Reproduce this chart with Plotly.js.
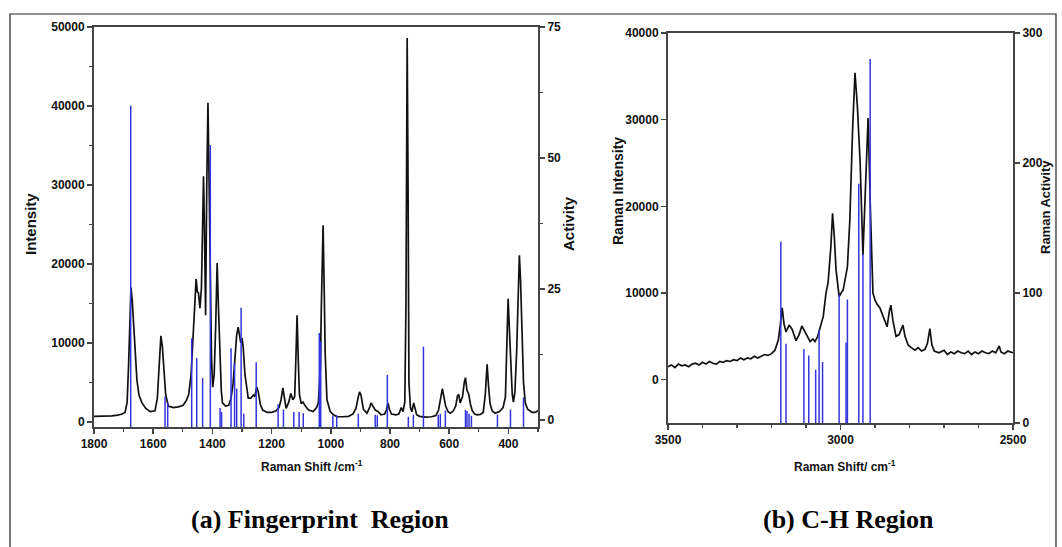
<!DOCTYPE html>
<html>
<head>
<meta charset="utf-8">
<script src="https://cdn.plot.ly/plotly-3.0.1.min.js"></script>
<style>html,body{margin:0;padding:0;background:#fff;}#chart{width:1062px;height:547px;}</style>
</head>
<body>
<div id="chart"></div>
<script>
// ---------- (a) Fingerprint region: Raman spectrum (intensity) ----------
const fpShift = [1800,1780,1760,1740,1720,1705,1695,1688,1683,1679,1675,1671,1667,1662,1655,1648,1638,1625,1610,1594,1586,1580,1574,1569,1563,1558,1549,1532,1515,1499,1488,1480,1472,1465,1459,1455,1451,1447,1442,1437,1433,1430,1427,1423,1419,1415,1411,1407,1403,1399,1394,1389,1384,1380,1375,1370,1366,1355,1345,1337,1330,1324,1318,1313,1308,1304,1300,1296,1290,1284,1279,1270,1262,1257,1250,1245,1238,1230,1215,1200,1185,1175,1168,1162,1157,1151,1142,1135,1128,1122,1118,1114,1110,1106,1100,1094,1086,1075,1060,1048,1042,1035,1032,1026,1022,1019,1013,1002,991,979,960,940,925,915,908,903,898,890,878,870,864,858,850,840,830,818,812,807,802,795,780,770,762,756,750,746,742,739,736,731,726,720,716,710,700,680,660,645,636,629,623,618,612,604,596,586,578,572,568,563,555,549,545,540,534,528,522,514,506,495,485,478,472,467,462,455,445,430,418,410,405,401,397,392,387,383,378,372,367,363,359,354,349,343,335,320,310,300];
const fpIntensity = [700,720,700,750,850,1000,1200,2500,7400,14000,17000,15500,13000,9000,5300,3400,2400,1700,1300,1400,3000,7000,10900,9500,6000,3500,2000,1800,1900,2100,2700,3500,6000,11000,16000,18100,16500,16300,14400,17000,25000,31100,25000,13500,30000,40400,30000,16000,8000,4400,6000,12000,20100,15000,8000,4000,2400,2000,2100,3000,4900,8000,11000,12000,10800,10000,10600,9500,6000,4000,3000,3000,3400,3200,4400,3800,2200,1500,1200,1200,1400,1800,2800,4300,3000,1700,2500,3600,2800,3200,8000,13500,8000,3500,2300,2500,2000,1500,1300,1800,2400,7000,14500,24900,16000,8700,2800,1300,900,650,650,700,1000,1700,3000,3800,3400,1600,1100,1700,2400,2000,1500,1300,900,1000,1500,2400,1600,1000,900,1000,1800,1300,2500,15000,48600,30000,5000,1800,1300,2400,1800,900,700,600,650,800,1500,3000,4200,3200,2000,1300,1100,1400,2000,3300,3500,2400,3200,5000,5600,4000,3500,2200,1400,1000,900,950,1200,3500,7300,4500,2300,1400,1100,1300,1800,3200,9000,15600,12000,7500,3500,2500,3800,9000,16000,21100,18000,11000,5000,2400,1600,1200,1200,1400];

// ---------- (a) calculated Raman activity (sticks) ----------
const fpBarShift = [1676,1560,1551,1470,1453,1433,1407,1374,1369,1337,1325,1318,1303,1294,1252,1178,1160,1125,1107,1093,1039,1034,993,980,907,850,843,809,738,721,687,637,630,613,545,540,533,525,437,393,349];
const fpActivity = [60,4.5,3.3,15.6,11.8,8,52.5,2.3,1.5,13.7,10.9,6,21.4,1.2,11,3,2,1.5,1.5,1.3,16.6,15,0.8,0.9,1.2,1,0.9,8.6,0.6,1,14,1,1.2,1.8,1.9,1.7,1.2,0.8,1,2,4.3];

// ---------- (b) C-H region: Raman spectrum (intensity) ----------
const chShift = [3500,3490,3480,3470,3460,3450,3440,3430,3420,3410,3400,3390,3380,3370,3360,3350,3340,3330,3320,3310,3300,3290,3280,3270,3260,3250,3240,3230,3220,3210,3200,3190,3180,3174,3169,3164,3158,3149,3140,3129,3120,3112,3103,3095,3088,3080,3074,3066,3059,3050,3042,3036,3028,3023,3018,3013,3004,2992,2980,2973,2965,2958,2951,2943,2935,2926,2920,2913,2906,2900,2894,2886,2878,2872,2865,2858,2854,2848,2839,2830,2824,2819,2813,2804,2795,2784,2775,2765,2755,2748,2741,2735,2728,2715,2700,2690,2680,2670,2660,2650,2640,2630,2620,2610,2600,2590,2580,2570,2560,2550,2540,2535,2525,2515,2500];
const chIntensity = [1500,1700,1400,1800,1600,1700,1500,1800,1900,1700,2000,1800,2100,1900,1800,2100,2000,2200,2100,2300,2200,2500,2300,2500,2400,2700,2500,2700,2900,2800,3000,3400,4600,6500,8300,6500,5500,6300,5800,4500,5200,6200,5500,4800,4400,4700,4400,5000,6000,7300,10000,11200,15300,19200,16500,12700,9600,10400,13000,18400,28800,35400,31500,25000,14400,23000,30200,19200,10000,9200,8700,8300,7500,6800,6100,8000,8600,6800,5000,5200,5900,6300,5000,4000,3700,3400,3700,3300,3500,4200,5900,4000,3300,3100,3400,2900,3200,3000,3300,3100,3000,3300,2900,3200,3000,3300,3100,3000,3300,3100,3900,3200,3000,3300,3100];

// ---------- (b) calculated Raman activity (sticks) ----------
const chBarShift = [3173,3158,3106,3092,3072,3062,3052,3004,2984,2980,2947,2935,2914];
const chActivity = [139.6,61,57,52,41,71.7,47,98.7,62,95,184,130,280];

// axis ranges
const fpIntRange = [-650, 50000];
const fpActRange = [-1.34, 75];
const chIntRange = [-5000, 40000];
const chActRange = [0, 300];

function sticks(xs, vs, base) {
  return {
    x: xs.flatMap(x => [x, x, null]),
    y: vs.flatMap(v => [base, v, null])
  };
}

const blue = '#3434dc';
const fpS = sticks(fpBarShift, fpActivity, fpActRange[0]);
const chS = sticks(chBarShift, chActivity, chActRange[0]);

const traces = [
  {x: fpShift, y: fpIntensity, type: 'scatter', mode: 'lines', xaxis: 'x', yaxis: 'y',
   line: {color: '#111', width: 1.7}},
  {x: fpS.x, y: fpS.y, type: 'scatter', mode: 'lines', xaxis: 'x', yaxis: 'y2',
   line: {color: blue, width: 1.5}, connectgaps: false},
  {x: chShift, y: chIntensity, type: 'scatter', mode: 'lines', xaxis: 'x2', yaxis: 'y3',
   line: {color: '#111', width: 1.7}},
  {x: chS.x, y: chS.y, type: 'scatter', mode: 'lines', xaxis: 'x2', yaxis: 'y4',
   line: {color: blue, width: 1.5}, connectgaps: false}
];

const tf = {family: 'Liberation Sans', size: 12, color: '#111', weight: 700};
const axCol = '#444';
const common = {showgrid: false, zeroline: false, showline: true, linecolor: axCol, linewidth: 2,
  ticks: 'outside', ticklen: 5, tickwidth: 1.5, tickcolor: axCol, tickformat: 'd', fixedrange: true};

function py(px) { return (547 - px) / 547; }
function pxx(px) { return px / 1062; }

const layout = {
  width: 1062, height: 547,
  margin: {l: 0, r: 0, t: 0, b: 0},
  paper_bgcolor: '#fff', plot_bgcolor: '#fff',
  showlegend: false,
  xaxis: Object.assign({}, common, {tickfont: Object.assign({}, tf), domain: [pxx(94), pxx(538)], range: [1800, 300], anchor: 'y',
    tick0: 0, dtick: 200, mirror: true,
    minor: {dtick: 100, ticks: 'outside', ticklen: 3, tickcolor: axCol, tickwidth: 1.2}}),
  yaxis: Object.assign({}, common, {tickfont: Object.assign({}, tf), domain: [py(427), py(27)], range: fpIntRange, anchor: 'x',
    tick0: 0, dtick: 10000,
    minor: {dtick: 5000, ticks: 'outside', ticklen: 3, tickcolor: axCol, tickwidth: 1.2}}),
  yaxis2: Object.assign({}, common, {tickfont: Object.assign({}, tf), domain: [py(427), py(27)], range: fpActRange, anchor: 'x',
    overlaying: 'y', side: 'right', tick0: 0, dtick: 25,
    minor: {dtick: 12.5, ticks: 'outside', ticklen: 3, tickcolor: axCol, tickwidth: 1.2}}),
  xaxis2: Object.assign({}, common, {tickfont: Object.assign({}, tf), domain: [pxx(668), pxx(1013)], range: [3500, 2500], anchor: 'y3',
    tick0: 0, dtick: 500, mirror: true,
    minor: {dtick: 100, ticks: 'outside', ticklen: 3, tickcolor: axCol, tickwidth: 1.2}}),
  yaxis3: Object.assign({}, common, {tickfont: Object.assign({}, tf), domain: [py(423), py(33)], range: chIntRange, anchor: 'x2',
    tick0: 0, dtick: 10000}),
  yaxis4: Object.assign({}, common, {tickfont: Object.assign({}, tf), domain: [py(423), py(33)], range: chActRange, anchor: 'x2',
    overlaying: 'y3', side: 'right', tick0: 0, dtick: 100}),
  shapes: [
    {type: 'rect', xref: 'paper', yref: 'paper', x0: pxx(10), x1: pxx(1056), y0: -0.02, y1: py(14),
     line: {color: '#222', width: 1.2}, fillcolor: 'rgba(0,0,0,0)'}
  ],
  annotations: [
    {text: 'Intensity', x: pxx(30), y: py(224), textangle: -90},
    {text: 'Activity', x: pxx(568), y: py(224), textangle: -90},
    {text: 'Raman Shift /cm<sup>-1</sup>', x: pxx(312), y: py(466), font: {size: 12}},
    {text: 'Raman Intensity', x: pxx(618), y: py(191), textangle: -90, font: {size: 14}},
    {text: 'Raman Activity', x: pxx(1045), y: py(207), textangle: -90, font: {size: 13}},
    {text: 'Raman Shift/ cm<sup>-1</sup>', x: pxx(845), y: py(466), font: {size: 12}},
    {text: '(a) Fingerprint  Region', x: pxx(320), y: py(519),
     font: {family: 'Liberation Serif', size: 26, color: '#000'}},
    {text: '(b) C-H Region', x: pxx(848), y: py(519),
     font: {family: 'Liberation Serif', size: 26, color: '#000'}}
  ].map(a => Object.assign({xref: 'paper', yref: 'paper', showarrow: false,
     xanchor: 'center', yanchor: 'middle'}, a, {
     font: Object.assign({family: 'Liberation Sans', size: 15, color: '#111', weight: 700}, a.font || {})
  }))
};

Plotly.newPlot('chart', traces, layout, {displayModeBar: false, staticPlot: true});
</script>
</body>
</html>
